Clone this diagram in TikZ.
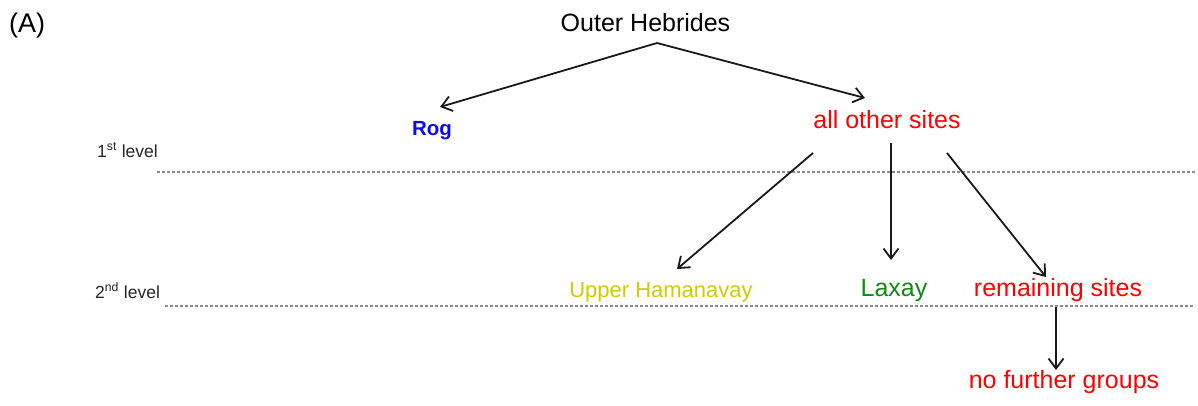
\documentclass[tikz,border=0pt]{standalone}
\usepackage{fontspec}
\setmainfont{Liberation Sans}
\usetikzlibrary{arrows.meta}
\definecolor{cred}{HTML}{FF0000}
\definecolor{cblue}{HTML}{0A0AF5}
\definecolor{cgreen}{HTML}{128A12}
\definecolor{cyellow}{HTML}{CCCC00}
\definecolor{cdot}{HTML}{8C8C8C}
\begin{document}
\begin{tikzpicture}[x=1pt,y=-1pt,
  lbl/.style={anchor=base,inner sep=0pt,font=\fontsize{25}{28}\selectfont},
  lvl/.style={anchor=base west,inner sep=0pt,font=\fontsize{17.5}{20}\selectfont,text=black!85},
  arr/.style={line width=1.8pt,draw=black!90,-{Straight Barb[length=10pt,width=15pt,line width=1.8pt]}},
  levelline/.style={draw=cdot,line width=2.6pt,dash pattern=on 2.6pt off 2.4pt}]
\useasboundingbox (0,0) rectangle (1198,405);
\node[anchor=base west,inner sep=0pt,font=\fontsize{27}{30}\selectfont] (tag) at (9,32) {(A)};
\node[lbl] (oh) at (645.5,31) {Outer Hebrides};
\node[lbl,text=cblue,font=\bfseries\fontsize{20.5}{24}\selectfont] (rog) at (432,135) {Rog};
\node[lbl,text=cred] (aos) at (887,128) {all other sites};
\node[lbl,text=cyellow,font=\fontsize{22}{26}\selectfont] (uh) at (661,297) {Upper Hamanavay};
\node[lbl,text=cgreen] (lax) at (894,296) {Laxay};
\node[lbl,text=cred] (rem) at (1058,296) {remaining sites};
\node[lbl,text=cred] (nfg) at (1064,388) {no further groups};
\node[lvl] (l1) at (97,157) {1\textsuperscript{st} level};
\node[lvl] (l2) at (95,298) {2\textsuperscript{nd} level};
\coordinate (d1a) at (157,172);
\coordinate (d1b) at (1195,172);
\coordinate (d2a) at (165,306);
\coordinate (d2b) at (1195,306);
\draw[levelline] (d1a) -- (d1b);
\draw[levelline] (d2a) -- (d2b);
\draw[arr] ([xshift=11.5pt,yshift=-12pt]oh.base) -- ([xshift=8pt,yshift=28pt]rog.base);
\draw[arr] ([xshift=11.5pt,yshift=-12pt]oh.base) -- ([xshift=-22pt,yshift=30pt]aos.base);
\draw[arr] ([xshift=-74pt,yshift=-25pt]aos.base) -- ([xshift=16pt,yshift=28pt]uh.base);
\draw[arr] ([xshift=4pt,yshift=-15pt]aos.base) -- ([xshift=-3pt,yshift=36pt]lax.base);
\draw[arr] ([xshift=60pt,yshift=-25pt]aos.base) -- ([xshift=-12pt,yshift=19pt]rem.base);
\draw[arr] ([xshift=-2pt,yshift=-11pt]rem.base) -- ([xshift=-8pt,yshift=18pt]nfg.base);
\end{tikzpicture}
\end{document}
